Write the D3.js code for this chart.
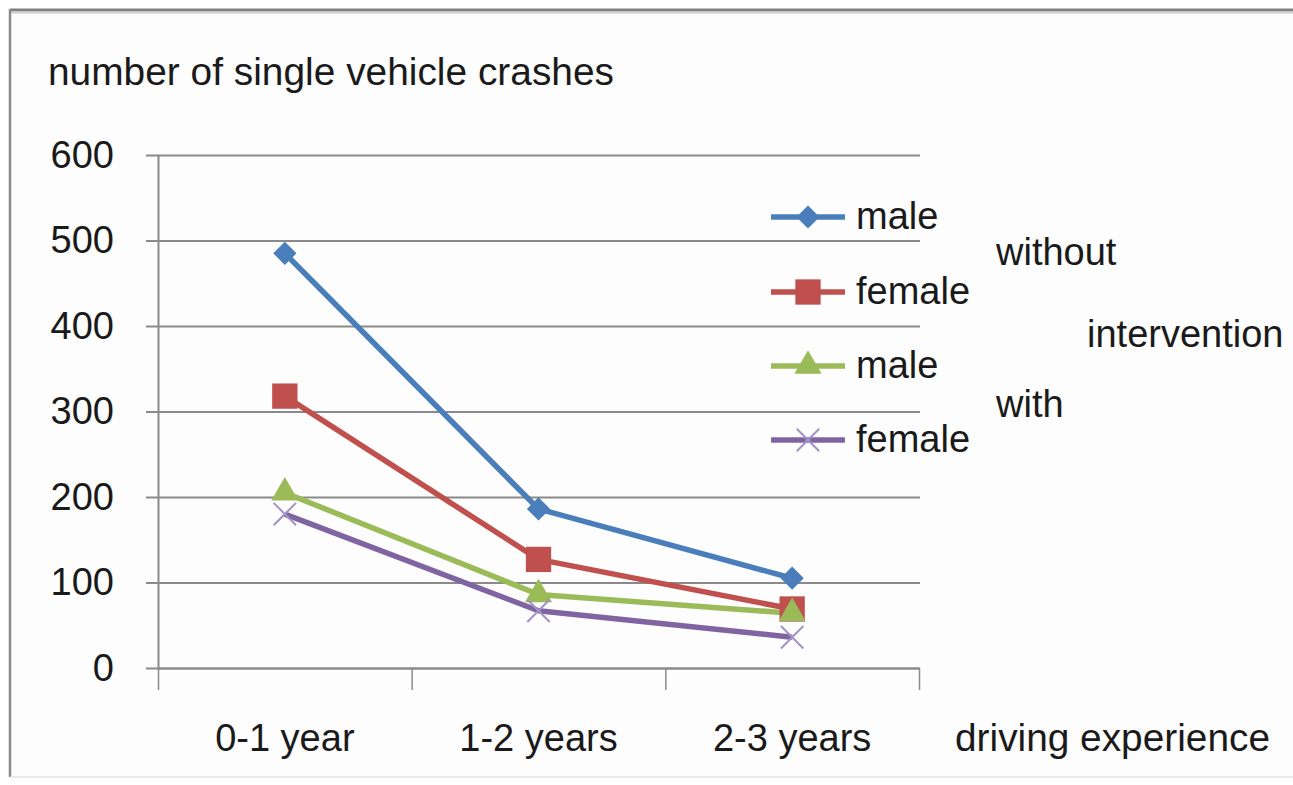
<!DOCTYPE html>
<html>
<head>
<meta charset="utf-8">
<script src="https://cdn.jsdelivr.net/npm/d3@7"></script>
<style>
  html, body { margin: 0; padding: 0; background: #ffffff; }
  svg text { font-family: "Liberation Sans", Arial, sans-serif; fill: #1a1a1a; }
</style>
</head>
<body>
<svg id="chart" width="1293" height="785"></svg>
<script>
// ---- data ----
const categories = ["0-1 year", "1-2 years", "2-3 years"];
const maleWithout   = [485, 186, 105];
const femaleWithout = [318, 127, 69];
const maleWith      = [205, 86, 64];
const femaleWith    = [180, 67, 36];
const seriesNames = ["male", "female", "male", "female"];
const yTicks = [0, 100, 200, 300, 400, 500, 600];
const yTitle = "number of single vehicle crashes";
const xTitle = "driving experience";
const groupLabels = ["without", "intervention", "with"];

(function () {
const series = [
  { name: seriesNames[0], values: maleWithout,   color: "#4a7ebb", marker: "diamond" },
  { name: seriesNames[1], values: femaleWithout, color: "#c0504d", marker: "square" },
  { name: seriesNames[2], values: maleWith,      color: "#9bbb59", marker: "triangle" },
  { name: seriesNames[3], values: femaleWith,    color: "#8064a2", marker: "x" }
];

const svg = d3.select("#chart");

// background + frame
svg.append("rect").attr("x", 0).attr("y", 0).attr("width", 1293).attr("height", 785).attr("fill", "#ffffff");
svg.append("rect").attr("x", 11).attr("y", 12).attr("width", 1293).attr("height", 765).attr("fill", "#fdfdfd");
svg.append("line").attr("x1", 10).attr("x2", 1293).attr("y1", 10).attr("y2", 10).attr("stroke", "#808080").attr("stroke-width", 3);
svg.append("line").attr("x1", 10).attr("x2", 1293).attr("y1", 12.5).attr("y2", 12.5).attr("stroke", "#d0d0d0").attr("stroke-width", 2);
svg.append("line").attr("x1", 10).attr("x2", 10).attr("y1", 9).attr("y2", 777).attr("stroke", "#8a8a8a").attr("stroke-width", 2.5);
svg.append("line").attr("x1", 10).attr("x2", 1293).attr("y1", 777).attr("y2", 777).attr("stroke", "#e2e2e2").attr("stroke-width", 1.5);

// scales
const pLeft = 158, pRight = 919, pTop = 155, pBottom = 668;
const x = d3.scaleBand().domain(categories).range([pLeft, pRight]).padding(0);
const xb = d3.scaleLinear().domain([0, categories.length]).range([pLeft, pRight]);
const y = d3.scaleLinear().domain([0, 600]).range([pBottom, pTop]);

const gridColor = "#8a8a8a";

// grid lines (extend slightly left of the axis like tick marks)
const grid = svg.append("g").attr("transform", `translate(${pRight + 1},0)`)
  .call(d3.axisLeft(y).tickValues(yTicks).tickSize(pRight + 1 - 146).tickFormat(""));
grid.select(".domain").remove();
grid.selectAll(".tick line").attr("stroke", gridColor).attr("stroke-width", 2);

// y axis labels + vertical axis line
const yAxis = svg.append("g").attr("transform", `translate(${pLeft},0)`)
  .call(d3.axisLeft(y).tickValues(yTicks).tickSize(0).tickSizeOuter(0).tickPadding(44));
yAxis.select(".domain").attr("stroke", gridColor).attr("stroke-width", 2);
yAxis.selectAll(".tick text").attr("font-size", 38).attr("fill", "#222").attr("font-family", "Liberation Sans, Arial, sans-serif");

// x axis boundary ticks
const xTickAxis = svg.append("g").attr("transform", `translate(0,${pBottom})`)
  .call(d3.axisBottom(xb).tickValues(d3.range(categories.length + 1)).tickSize(22).tickSizeOuter(0).tickFormat(""));
xTickAxis.select(".domain").attr("stroke", gridColor).attr("stroke-width", 2);
xTickAxis.selectAll(".tick line").attr("stroke", gridColor).attr("stroke-width", 1.5);

// x category labels
const xAxis = svg.append("g").attr("transform", `translate(0,${pBottom})`)
  .call(d3.axisBottom(x).tickSize(0).tickPadding(0));
xAxis.select(".domain").remove();
xAxis.selectAll(".tick text").attr("font-size", 38).attr("fill", "#222")
  .attr("font-family", "Liberation Sans, Arial, sans-serif")
  .attr("y", 83).attr("dy", 0);

// titles
svg.append("text").attr("x", 48).attr("y", 85).attr("font-size", 38).attr("textLength", 566).attr("lengthAdjust", "spacingAndGlyphs").text(yTitle);
svg.append("text").attr("x", 955).attr("y", 751).attr("font-size", 38).attr("textLength", 315).attr("lengthAdjust", "spacingAndGlyphs").text(xTitle);

// marker generator
function markerPath(type) {
  if (type === "diamond") return d3.symbol().type(d3.symbolSquare).size(270)();
  if (type === "square") return d3.symbol().type(d3.symbolSquare).size(640)();
  if (type === "triangle") return d3.symbol().type(d3.symbolTriangle).size(320)();
  return d3.symbol().type(d3.symbolX).size(330)();
}
function drawMarker(g, s, cx, cy) {
  const p = g.append("path").attr("d", markerPath(s.marker));
  if (s.marker === "diamond") {
    p.attr("transform", `translate(${cx},${cy}) rotate(45)`).attr("fill", s.color);
  } else if (s.marker === "x") {
    p.attr("transform", `translate(${cx},${cy})`).attr("fill", "none").attr("stroke", "#a392c6").attr("stroke-width", 2);
  } else {
    p.attr("transform", `translate(${cx},${cy})`).attr("fill", s.color);
  }
}

// lines
const line = d3.line().x((d, i) => x(categories[i]) + x.bandwidth() / 2).y(d => y(d));
const plot = svg.append("g");
series.forEach(s => {
  plot.append("path").datum(s.values).attr("d", line)
    .attr("fill", "none").attr("stroke", s.color).attr("stroke-width", 5.5)
    .attr("stroke-linejoin", "round");
});
series.forEach(s => {
  s.values.forEach((v, i) => drawMarker(plot, s, x(categories[i]) + x.bandwidth() / 2, y(v)));
});

// legend
const legendLineY = [217, 292, 366, 440];
const legend = svg.append("g");
series.forEach((s, i) => {
  const ly = legendLineY[i];
  legend.append("line").attr("x1", 771).attr("x2", 845).attr("y1", ly).attr("y2", ly)
    .attr("stroke", s.color).attr("stroke-width", 5.5);
  drawMarker(legend, s, 808, ly);
  legend.append("text").attr("x", 856).attr("y", ly + 12).attr("font-size", 38).text(s.name);
});
legend.append("text").attr("x", 996).attr("y", 265).attr("font-size", 38).text(groupLabels[0]);
legend.append("text").attr("x", 1087).attr("y", 347).attr("font-size", 38).text(groupLabels[1]);
legend.append("text").attr("x", 996).attr("y", 417).attr("font-size", 38).text(groupLabels[2]);
})();
</script>
</body>
</html>
